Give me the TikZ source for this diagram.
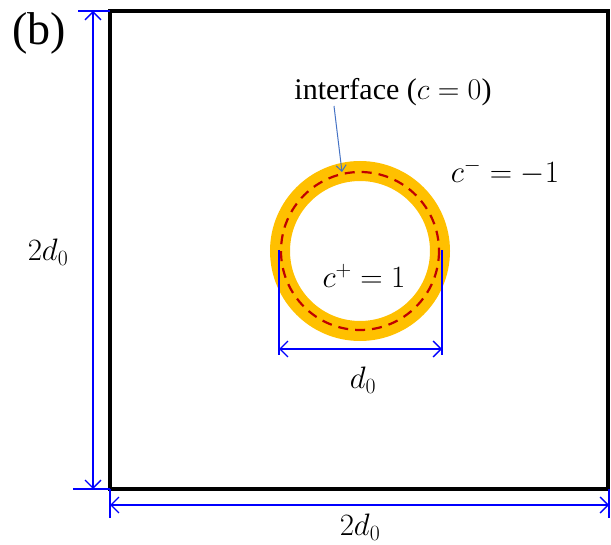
\RequirePackage{fix-cm}
\documentclass[tikz,border=0pt]{standalone}
\usepackage{fontspec}
\setmainfont{Liberation Serif}
\usetikzlibrary{arrows.meta}
\definecolor{ringgold}{HTML}{FFC000}
\definecolor{dashred}{HTML}{C00000}
\definecolor{dimblue}{HTML}{0000FF}
\definecolor{ptrblue}{HTML}{4472C4}
\tikzset{
  dimline/.style={draw=dimblue, line width=1.3pt},
  dimarrow/.style={dimline, {Straight Barb[length=8pt,width=16pt]}-{Straight Barb[length=8pt,width=16pt]}},
  lbl/.style={inner sep=0pt, font=\fontsize{31}{36}\selectfont},
}
\begin{document}
\begin{tikzpicture}[x=1pt,y=-1pt]
\useasboundingbox (0,0) rectangle (611,545);
% domain box
\coordinate (tl) at (110,11);
\coordinate (br) at (608,489);
\draw[line width=3.2pt] (tl) rectangle (br);
% ring
\coordinate (cc) at (360,251);
\draw[ringgold, line width=20pt] (cc) circle[radius=80];
\draw[dashred, line width=2.2pt, dash pattern=on 10pt off 7pt] (cc) circle[radius=79];
% left dimension 2d0
\coordinate (lt) at (93,11);
\coordinate (lb) at (93,489);
\draw[dimline] (78,11) -- (110,11);
\draw[dimline] (73,489) -- (110,489);
\draw[dimarrow] (lt) -- (lb);
\node[lbl] (ldim) at (48,252) {$2d_0$};
% bottom dimension 2d0
\coordinate (bl) at (110,505);
\coordinate (brr) at (609,505);
\draw[dimline] (110,489) -- (110,518);
\draw[dimline] (609,489) -- (609,518);
\draw[dimarrow] (bl) -- (brr);
\node[lbl] (bdim) at (360,527) {$2d_0$};
% d0 dimension
\coordinate (dl) at (279,349);
\coordinate (dr) at (442,349);
\draw[dimline] (279,250) -- (279,355);
\draw[dimline] (442,250) -- (442,355);
\draw[dimarrow] (dl) -- (dr);
\node[lbl] (ddim) at (363,380) {$d_0$};
% labels
\node[lbl] (cplus) at (364,276) {$c^{+}=1$};
\node[lbl] (cminus) at (505,172) {$c^{-}=-1$};
\node[inner sep=0pt, font=\fontsize{30}{34}\selectfont] (iface) at (393,92) {interface ($c=0$)};
\coordinate (ptr) at (342,172);
\draw[ptrblue, line width=1pt, -{Straight Barb[length=6pt,width=10pt]}] (334,106) -- (ptr);
\node[inner sep=0pt, font=\fontsize{46}{50}\selectfont] (tag) at (39,33) {(b)};
\end{tikzpicture}
\end{document}
